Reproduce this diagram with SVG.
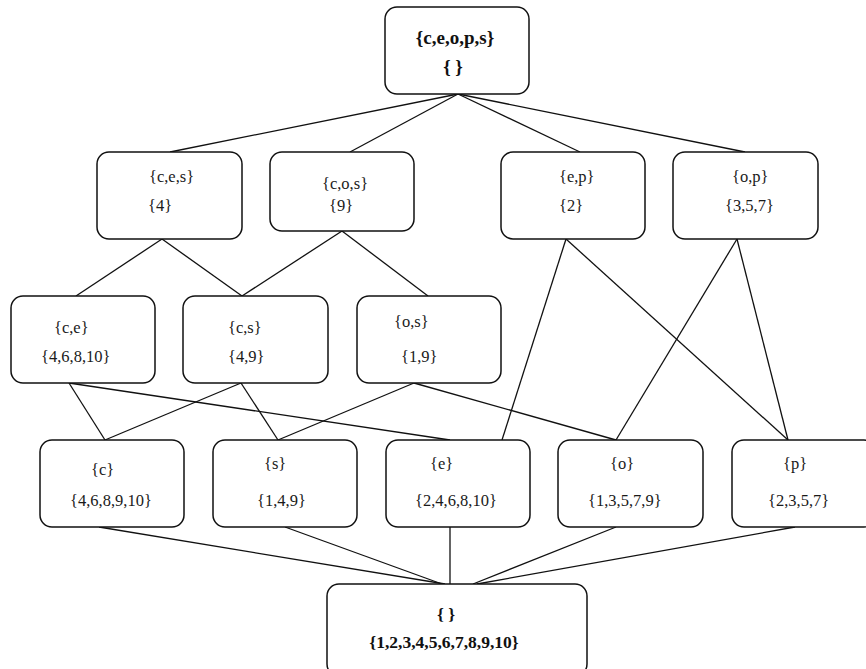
<svg xmlns="http://www.w3.org/2000/svg" width="866" height="669" viewBox="0 0 866 669">
<style>
.box{fill:#fff;stroke:#111;stroke-width:1.5}
.t{font-family:"Liberation Serif","Times New Roman",serif;font-size:16.5px;fill:#1a1a1a}
.b{font-family:"Liberation Serif","Times New Roman",serif;font-weight:bold;fill:#111;text-anchor:middle}
.e line{stroke:#111;stroke-width:1.3}
</style>
<rect width="866" height="669" fill="#fff"/>
<g id="edges" class="e">
<line x1="458" y1="94" x2="170" y2="152"/>
<line x1="458" y1="94" x2="350" y2="152"/>
<line x1="458" y1="94" x2="580" y2="152"/>
<line x1="458" y1="94" x2="745" y2="152"/>
<line x1="162" y1="239" x2="76" y2="296"/>
<line x1="162" y1="239" x2="242" y2="296"/>
<line x1="342" y1="231" x2="242" y2="296"/>
<line x1="342" y1="231" x2="428" y2="296"/>
<line x1="566" y1="239" x2="502" y2="440"/>
<line x1="566" y1="239" x2="788" y2="440"/>
<line x1="737" y1="239" x2="616" y2="440"/>
<line x1="737" y1="239" x2="788" y2="440"/>
<line x1="69" y1="383" x2="105" y2="440"/>
<line x1="69" y1="383" x2="450" y2="440"/>
<line x1="241" y1="383" x2="105" y2="440"/>
<line x1="241" y1="383" x2="278" y2="440"/>
<line x1="414" y1="383" x2="278" y2="440"/>
<line x1="414" y1="383" x2="616" y2="440"/>
<line x1="99" y1="527" x2="445" y2="584"/>
<line x1="285" y1="527" x2="442" y2="584"/>
<line x1="450" y1="527" x2="450" y2="584"/>
<line x1="616" y1="527" x2="473" y2="584"/>
<line x1="795" y1="527" x2="477" y2="584"/>
</g>
<g id="top">
<rect class="box" x="385" y="7" width="144" height="87" rx="12"/>
<text class="b" x="455" y="44" font-size="19">{c,e,o,p,s}</text>
<text class="b" x="453" y="73" font-size="19">{ }</text>
</g>
<g id="ces">
<rect class="box" x="97" y="152" width="145" height="87" rx="12"/>
<text class="t" x="149" y="182">{c,e,s}</text>
<text class="t" x="148" y="211">{4}</text>
</g>
<g id="cos">
<rect class="box" x="270" y="152" width="144" height="79" rx="12"/>
<text class="t" x="322" y="189">{c,o,s}</text>
<text class="t" x="329" y="211">{9}</text>
</g>
<g id="ep">
<rect class="box" x="501" y="152" width="144" height="87" rx="12"/>
<text class="t" x="559" y="182">{e,p}</text>
<text class="t" x="559" y="211">{2}</text>
</g>
<g id="op">
<rect class="box" x="673" y="152" width="145" height="87" rx="12"/>
<text class="t" x="732" y="182">{o,p}</text>
<text class="t" x="725" y="211">{3,5,7}</text>
</g>
<g id="ce">
<rect class="box" x="11" y="296" width="144" height="87" rx="12"/>
<text class="t" x="54" y="333">{c,e}</text>
<text class="t" x="41" y="362">{4,6,8,10}</text>
</g>
<g id="cs">
<rect class="box" x="183" y="296" width="145" height="87" rx="12"/>
<text class="t" x="228" y="333">{c,s}</text>
<text class="t" x="228" y="362">{4,9}</text>
</g>
<g id="os">
<rect class="box" x="357" y="296" width="144" height="87" rx="12"/>
<text class="t" x="394" y="327">{o,s}</text>
<text class="t" x="401" y="362">{1,9}</text>
</g>
<g id="c">
<rect class="box" x="40" y="440" width="144" height="87" rx="12"/>
<text class="t" x="91" y="475">{c}</text>
<text class="t" x="70" y="506">{4,6,8,9,10}</text>
</g>
<g id="s">
<rect class="box" x="213" y="440" width="144" height="87" rx="12"/>
<text class="t" x="264" y="469">{s}</text>
<text class="t" x="257" y="506">{1,4,9}</text>
</g>
<g id="e">
<rect class="box" x="386" y="440" width="144" height="87" rx="12"/>
<text class="t" x="430" y="469">{e}</text>
<text class="t" x="415" y="506">{2,4,6,8,10}</text>
</g>
<g id="o">
<rect class="box" x="558" y="440" width="145" height="87" rx="12"/>
<text class="t" x="610" y="469">{o}</text>
<text class="t" x="588" y="506">{1,3,5,7,9}</text>
</g>
<g id="p">
<rect class="box" x="732" y="440" width="144" height="87" rx="12"/>
<text class="t" x="783" y="469">{p}</text>
<text class="t" x="768" y="506">{2,3,5,7}</text>
</g>
<g id="bottom">
<rect class="box" x="327" y="584" width="260" height="92" rx="12"/>
<text class="b" x="446" y="620" font-size="17.5">{ }</text>
<text class="b" x="444" y="648" font-size="17.5">{1,2,3,4,5,6,7,8,9,10}</text>
</g>
</svg>
